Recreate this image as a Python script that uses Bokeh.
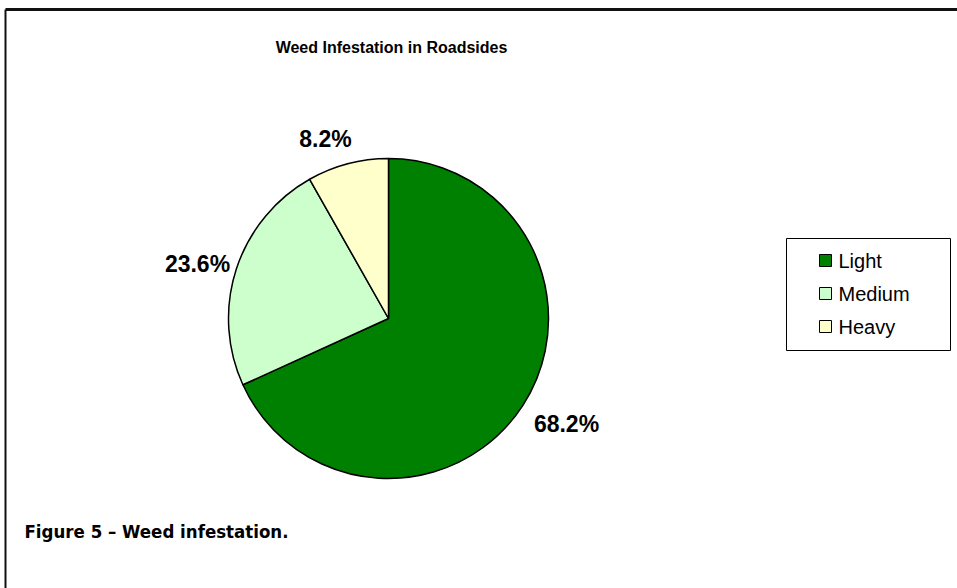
import math
from bokeh.plotting import figure
from bokeh.models import Range1d, ColumnDataSource
from bokeh.core.properties import value
from bokeh.embed import file_html
from bokeh.resources import INLINE

title_text = "Weed Infestation in Roadsides"
caption_text = "Figure 5 \u2013 Weed infestation."
categories = ["Light", "Medium", "Heavy"]
percents = [68.2, 23.6, 8.2]
colors = ["#008000", "#CCFFCC", "#FFFFCC"]

W, H = 957, 588
p = figure(width=W, height=H, output_backend="svg", toolbar_location=None,
           x_range=Range1d(0, W), y_range=Range1d(0, H), min_border=0)
p.axis.visible = False
p.grid.visible = False
p.outline_line_color = None
p.background_fill_color = "white"
p.border_fill_color = "white"

def X(px):
    return px
def Y(py):
    return H - py

# outer frame (left and top visible, extends beyond right/bottom)
p.line([X(5), X(1000)], [Y(9), Y(9)], line_color="#111111", line_width=3)
p.line([X(5), X(5)], [Y(9), Y(700)], line_color="#111111", line_width=2)

# pie
cx, cy, r = 388, 318, 160
total = sum(percents)
starts, ends = [], []
cum = 0.0
for v in percents:
    a0 = cum / total
    cum += v
    a1 = cum / total
    starts.append(math.pi / 2 - 2 * math.pi * a1)
    ends.append(math.pi / 2 - 2 * math.pi * a0)
src = ColumnDataSource(dict(start=starts, end=ends, color=colors,
                            x=[X(cx)] * 3, y=[Y(cy)] * 3))
p.wedge(x="x", y="y", radius=r, start_angle="start", end_angle="end",
        fill_color="color", line_color="black", line_width=1.5, source=src)

# data labels
label_pos = [(566, 423), (197, 263), (325, 138)]
labels = [f"{v:.1f}%" for v in percents]
p.text(x=[X(a) for a, b in label_pos], y=[Y(b) for a, b in label_pos], text=labels,
       text_font=value("Liberation Sans"), text_font_style="bold",
       text_font_size="23px", text_align="center", text_baseline="middle",
       text_color="black")

# title
p.text(x=[X(391)], y=[Y(47)], text=[title_text], text_font=value("Liberation Sans"),
       text_font_style="bold", text_font_size="16px", text_align="center",
       text_baseline="middle", text_color="black")

# legend
p.quad(left=[X(786)], right=[X(950)], top=[Y(238)], bottom=[Y(350)],
       fill_color="white", line_color="black", line_width=1)
leg_y = [260, 293, 326]
p.rect(x=[X(825)] * 3, y=[Y(v) for v in leg_y], width=12, height=12,
       fill_color=colors, line_color="black", line_width=1)
p.text(x=[X(838)] * 3, y=[Y(v) for v in leg_y], text=categories,
       text_font=value("Liberation Sans"), text_font_size="20px",
       text_align="left", text_baseline="middle", text_color="black")

# caption
p.text(x=[X(24)], y=[Y(531)], text=[caption_text],
       text_font=value("DejaVu Sans Condensed"), text_font_style="bold",
       text_font_size="18.5px", text_align="left", text_baseline="middle",
       text_color="black")

open("out.html", "w").write(file_html(p, INLINE))
